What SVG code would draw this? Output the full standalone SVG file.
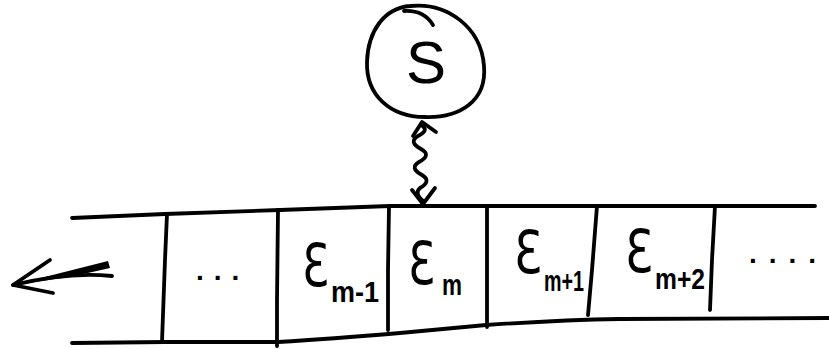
<svg xmlns="http://www.w3.org/2000/svg" width="829" height="349" viewBox="0 0 829 349">
<style>
.ln{fill:none;stroke:#000;stroke-width:3.8;stroke-linecap:round;stroke-linejoin:round}
.big{font-family:"DejaVu Sans","Liberation Sans",sans-serif;font-size:58px;fill:#000}
.sub{font-family:"Liberation Sans","DejaVu Sans",sans-serif;font-size:30px;font-weight:bold;fill:#000}
.dots{font-family:"Liberation Sans",sans-serif;font-size:28px;font-weight:bold;fill:#000}
</style>
<rect width="829" height="349" fill="#fff"/>
<g id="S">
<path class="ln" d="M410,6 C447,2 481,27 484,66 C487,101 460,118 425,117 C390,117 366,95 367,62 C368,30 385,8 410,6 Z"/>
<path class="ln" d="M404,11 Q424,10 433,25" stroke-width="2.2"/>
<text x="426" y="83" text-anchor="middle" font-family="Liberation Sans, sans-serif" font-size="60" fill="#000">S</text>
</g>
<g id="strip">
<path class="ln" d="M72,218 L165,214 L280,210 L390,206 L815,206"/>
<path class="ln" d="M72,343 L165,342 L278,342 Q330,339 400,333 L486,325 Q560,320 620,319 L829,318"/>
</g>
<g id="cell-dots-left">
<path class="ln" d="M167,214 L165,260 L162,342"/>
<text class="dots" x="196" y="280" letter-spacing="10">...</text>
</g>
<g id="cell-m-1">
<path class="ln" d="M278,210 L277,300 L277,346"/>
<text class="big" x="302" y="286" textLength="27" lengthAdjust="spacingAndGlyphs">Ɛ</text>
<text class="sub" x="331" y="302" textLength="48" lengthAdjust="spacingAndGlyphs">m-1</text>
</g>
<g id="cell-m">
<path class="ln" d="M389,206 L388,270 L388,330"/>
<text class="big" x="408" y="284" textLength="27" lengthAdjust="spacingAndGlyphs">Ɛ</text>
<text class="sub" x="442" y="295" textLength="20" lengthAdjust="spacingAndGlyphs">m</text>
</g>
<g id="cell-m+1">
<path class="ln" d="M487,206 L487,270 L487,327"/>
<text class="big" x="514" y="273" textLength="28" lengthAdjust="spacingAndGlyphs">Ɛ</text>
<text class="sub" x="544" y="291" textLength="40" lengthAdjust="spacingAndGlyphs">m+1</text>
</g>
<g id="cell-m+2">
<path class="ln" d="M597,206 L592,270 L588,315"/>
<text class="big" x="625" y="272" textLength="28" lengthAdjust="spacingAndGlyphs">Ɛ</text>
<text class="sub" x="655" y="289" textLength="50" lengthAdjust="spacingAndGlyphs">m+2</text>
</g>
<g id="cell-dots-right">
<path class="ln" d="M715,206 L712,260 L710,310"/>
<text class="dots" x="749" y="263" letter-spacing="12">....</text>
</g>
<g id="connectors">
<path class="ln" stroke-width="4.5" d="M421,125 Q430,130 418,136 Q408,142 421,149 Q432,155 419,162 Q409,168 422,175 Q432,181 420,188 Q414,193 423,201"/>
<path class="ln" stroke-width="4.5" d="M413,136 L422,122 L436,132"/>
<path class="ln" stroke-width="4.5" d="M412,190 L423,204 L435,188"/>
<path fill="#000" d="M13,285 L108,261 L110,268 L70,277 Z"/>
<path class="ln" d="M13,285 C50,276 85,273 112,276"/>
<path class="ln" stroke-width="4.5" d="M50,260 L13,285 L53,293"/>
</g>
</svg>
